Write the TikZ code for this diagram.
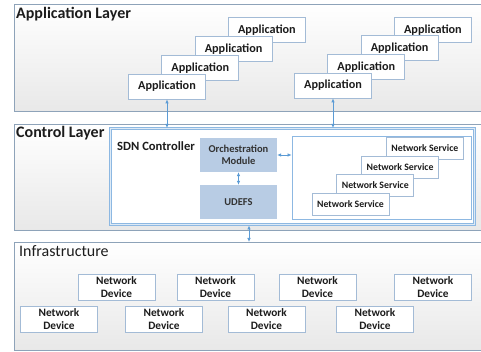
\documentclass[tikz,border=0pt]{standalone}
\usepackage{fontspec}
\setmainfont{Carlito}
\usetikzlibrary{arrows.meta}
\definecolor{layerline}{HTML}{8EA3B9}
\definecolor{boxline}{HTML}{A3BBD6}
\definecolor{ctrlline}{HTML}{8DB8E2}
\definecolor{modfill}{HTML}{B8CCE4}
\definecolor{linkblue}{HTML}{5B9BD5}
\definecolor{ink}{HTML}{1C1C1C}
\begin{document}
\begin{tikzpicture}[x=1pt,y=-1pt,
  layer/.style={draw=layerline, line width=0.8pt, top color=white, bottom color=black!9,
    anchor=north west, minimum width=472pt, inner sep=0pt},
  layertitle/.style={anchor=base west, inner sep=0pt, text=ink, font=\fontsize{16}{18}\selectfont\bfseries},
  appbox/.style={draw=boxline, fill=white, line width=0.7pt, minimum width=77pt, minimum height=25pt,
    inner sep=0pt, text=ink, font=\fontsize{12.2}{13}\selectfont\bfseries},
  servicebox/.style={appbox, minimum height=22pt, font=\fontsize{9.8}{11}\selectfont\bfseries},
  devicebox/.style={appbox, minimum height=26pt, align=center, font=\fontsize{11.3}{12.5}\selectfont\bfseries},
  modbox/.style={fill=modfill, minimum width=77pt, minimum height=34pt, inner sep=0pt, align=center,
    text=ink!90, font=\fontsize{10.5}{12.5}\selectfont\bfseries},
  link/.style={draw=linkblue, line width=0.7pt, {Latex[length=4pt,width=3.5pt]}-{Latex[length=4pt,width=3.5pt]}}]
\useasboundingbox (0,0) rectangle (481,352);

% layers
\node[layer, minimum height=107pt] (applayer) at (14,4) {};
\node[layer, minimum height=106pt] (ctrllayer) at (14,124) {};
\node[layer, minimum height=108pt] (infralayer) at (14,242) {};
\node[layertitle] (apptitle) at (16,18.5) {Application Layer};
\node[layertitle] (ctrltitle) at (16,137.5) {Control Layer};
\node[layertitle, font=\fontsize{16}{18}\selectfont] (infratitle) at (19,256.5) {Infrastructure};

% applications
\foreach \i in {3,2,1,0} {
  \node[appbox] (appL\i) at (167+33.3*\i, 86.5-18.8*\i) {Application};
  \node[appbox] (appR\i) at (333+33.3*\i, 85.5-18.6*\i) {Application};
}

% controller
\node[draw=ctrlline, line width=1pt, double=ctrlline!30, double distance=1pt, fill=white,
  minimum width=364pt, minimum height=96pt, inner sep=0pt] (sdn) at (292.5,176.5) {};
\node[anchor=base west, inner sep=0pt, text=ink, font=\fontsize{12.6}{14}\selectfont\bfseries]
  (sdntitle) at (117,151) {SDN Controller};
\node[modbox] (orch) at (238.5,155) {Orchestration\\Module};
\node[modbox] (udefs) at (238.5,202) {UDEFS};
\node[draw=ctrlline, line width=0.8pt, fill=white, minimum width=179pt, minimum height=83pt,
  inner sep=0pt] (nspanel) at (381.5,177.5) {};
\foreach \i in {3,2,1,0}
  \node[servicebox] (ns\i) at (350.5+24.8*\i, 204-18.5*\i) {Network Service};

% devices
\node[devicebox] (dev1) at (116.5,287) {Network\\Device};
\node[devicebox] (dev2) at (215.5,287) {Network\\Device};
\node[devicebox] (dev3) at (317.5,287) {Network\\Device};
\node[devicebox] (dev4) at (433,287) {Network\\Device};
\node[devicebox] (dev5) at (59,319) {Network\\Device};
\node[devicebox] (dev6) at (164,319) {Network\\Device};
\node[devicebox] (dev7) at (266.5,319) {Network\\Device};
\node[devicebox] (dev8) at (375,319) {Network\\Device};

% links
\coordinate (down) at (249,225.5);
\draw[link] (appL0.south) -- (appL0.south |- sdn.north);
\draw[link] (appR0.south) -- (appR0.south |- sdn.north);
\draw[link] (orch.south) -- (udefs.north);
\draw[link] (orch.east) -- (nspanel.west |- orch.east);
\draw[link] (down) -- (down |- infralayer.north);
\end{tikzpicture}
\end{document}
